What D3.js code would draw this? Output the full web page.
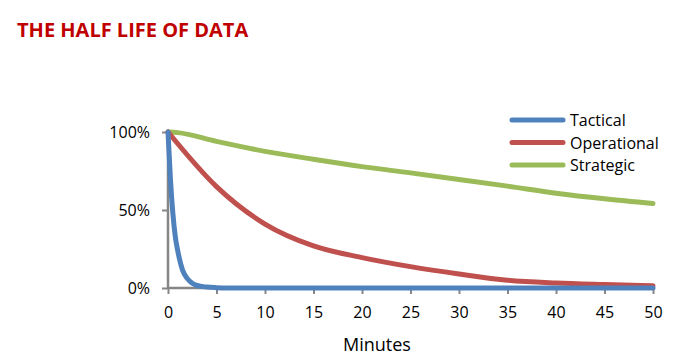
<!DOCTYPE html>
<html>
<head>
<meta charset="utf-8">
<script src="https://cdn.jsdelivr.net/npm/d3@7"></script>
<style>
  body { margin: 0; background: #fff; }
  text { font-family: "Open Sans", "DejaVu Sans", sans-serif; }
</style>
</head>
<body>
<div id="chart"></div>
<script>
// data (minutes -> share of value left, %)
const seriesNames = ["Tactical", "Operational", "Strategic"];
const seriesColors = ["#4F81BD", "#C0504D", "#9BBB59"];

const tacticalMinutes = [0, 0.25, 0.5, 0.75, 1, 1.5, 2, 2.5, 3, 4, 5, 6, 10, 20, 30, 40, 50];
const tacticalValues  = [100, 70, 48, 33, 24, 11.5, 6, 3, 1.6, 0.6, 0.2, 0, 0, 0, 0, 0, 0];

const operationalMinutes = [0, 5, 10, 15, 20, 25, 30, 35, 40, 45, 50];
const operationalValues  = [100, 65, 41, 27, 19.5, 13.7, 9, 5, 3.2, 2.2, 1.4];

const strategicMinutes = [0, 1, 5, 10, 15, 20, 25, 30, 35, 40, 45, 50];
const strategicValues  = [100, 99.6, 94, 87.6, 82.5, 77.8, 73.8, 69.6, 65.3, 60.8, 57.2, 54.2];

const xTicks = [0, 5, 10, 15, 20, 25, 30, 35, 40, 45, 50];
const yTicks = [0, 50, 100];

const width = 692, height = 362;
const margin = {left: 168, right: 39, top: 132, bottom: 74};
const innerWidth = width - margin.left - margin.right;
const innerHeight = height - margin.top - margin.bottom;

const svg = d3.select("#chart").append("svg")
  .attr("width", width)
  .attr("height", height);

// title
svg.append("text")
  .text("THE HALF LIFE OF DATA")
  .attr("x", 17)
  .attr("y", 37)
  .attr("fill", "#C00000")
  .attr("font-size", "20px")
  .attr("font-weight", "bold");

const innerChart = svg.append("g")
  .attr("transform", `translate(${margin.left}, ${margin.top})`);

const xScale = d3.scaleLinear().domain([0, 50]).range([0, innerWidth]);
const yScale = d3.scaleLinear().domain([0, 100]).range([innerHeight, 0]);

// axes
const xAxis = d3.axisBottom(xScale).tickValues(xTicks).tickSize(6).tickPadding(13);
const xg = innerChart.append("g")
  .attr("transform", `translate(0, ${innerHeight})`)
  .call(xAxis);

const yAxis = d3.axisLeft(yScale).tickValues(yTicks).tickFormat(d => d + "%").tickSize(6).tickPadding(12);
const yg = innerChart.append("g").call(yAxis);

[xg, yg].forEach(g => {
  g.select(".domain").attr("stroke", "#868686").attr("stroke-width", 2.5);
  g.selectAll(".tick line").attr("stroke", "#868686").attr("stroke-width", 2);
  g.selectAll(".tick text")
    .attr("fill", "#000")
    .attr("font-size", "16px")
    .attr("font-family", "'Open Sans', sans-serif");
});
// remove the outer end-caps of the domain paths
xg.select(".domain").attr("d", `M0,0H${innerWidth}`);
yg.select(".domain").attr("d", `M0,${innerHeight}V0`);

svg.append("text")
  .text("Minutes")
  .attr("x", 377)
  .attr("y", 351)
  .attr("text-anchor", "middle")
  .attr("font-size", "18px")
  .attr("fill", "#000");

// lines
const series = [
  {name: seriesNames[0], minutes: tacticalMinutes, values: tacticalValues},
  {name: seriesNames[1], minutes: operationalMinutes, values: operationalValues},
  {name: seriesNames[2], minutes: strategicMinutes, values: strategicValues}
];

const line = d3.line()
  .x(d => xScale(d[0]))
  .y(d => yScale(d[1]))
  .curve(d3.curveMonotoneX);

// draw strategic first, tactical last (tactical on top)
series.slice().reverse().forEach(s => {
  const i = seriesNames.indexOf(s.name);
  innerChart.append("path")
    .datum(s.minutes.map((m, k) => [m, s.values[k]]))
    .attr("d", line)
    .attr("fill", "none")
    .attr("stroke", seriesColors[i])
    .attr("stroke-width", 5)
    .attr("stroke-linejoin", "round")
    .attr("stroke-linecap", "round");
});

// legend
const legend = svg.append("g")
  .attr("transform", "translate(512, 120)");

legend.selectAll("line")
  .data(seriesNames)
  .join("line")
  .attr("x1", 0)
  .attr("x2", 51)
  .attr("y1", (d, i) => i * 22.5)
  .attr("y2", (d, i) => i * 22.5)
  .attr("stroke", (d, i) => seriesColors[i])
  .attr("stroke-width", 5)
  .attr("stroke-linecap", "round");

legend.selectAll("text")
  .data(seriesNames)
  .join("text")
  .attr("x", 58)
  .attr("y", (d, i) => i * 22.5 + 6)
  .text(d => d)
  .attr("font-size", "16px")
  .attr("fill", "#000");
</script>
</body>
</html>
